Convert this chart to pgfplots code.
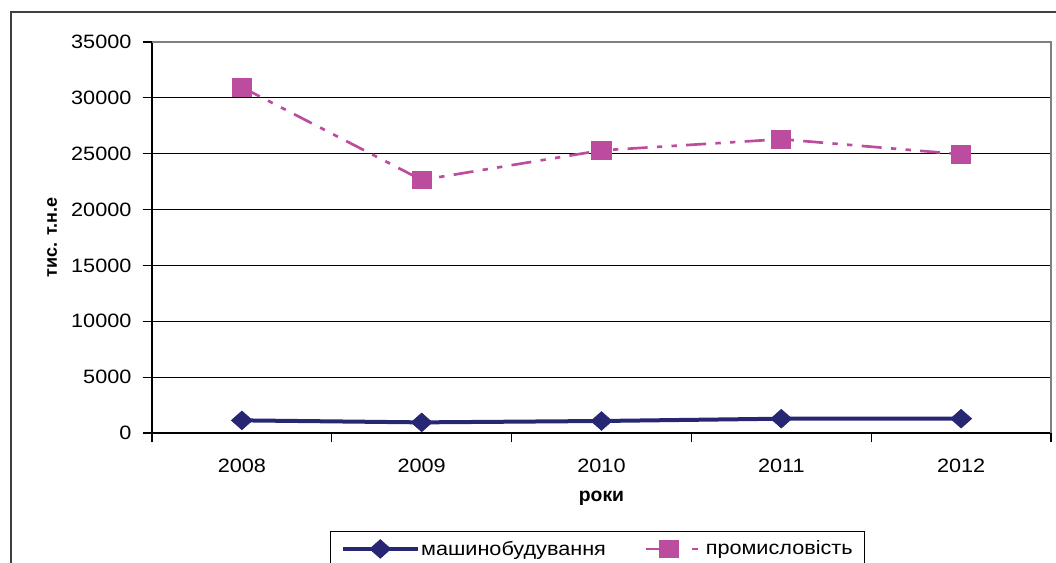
\documentclass[border=0pt]{standalone}
\usepackage{pgfplots}
\pgfplotsset{compat=1.18}
\usepackage{fontspec}
\setmainfont{Liberation Sans}
\definecolor{navy}{HTML}{262673}
\definecolor{pinkm}{HTML}{BB4C9E}
\definecolor{bordergrey}{HTML}{808080}
\begin{document}
\begin{tikzpicture}[x=0.75pt,y=0.75pt]
\useasboundingbox (0,0) rectangle (1056,563);
\clip (0,0) rectangle (1056,563);
\draw[line width=1.5pt,color=black!75] (11,-60) -- (11,551) -- (1100,551);
\begin{axis}[
  at={(152pt*0.75,130pt*0.75)}, anchor=south west,
  scale only axis, width=674.25pt, height=293.25pt,
  xmin=-0.5, xmax=4.5, ymin=0, ymax=35000,
  axis x line*=bottom, axis y line*=left,
  axis line style={line width=0.9pt,black},
  xtick={0,1,2,3,4}, xticklabels={2008,2009,2010,2011,2012},
  major x tick style={draw=none},
  minor xtick={-0.5,0.5,1.5,2.5,3.5,4.5},
  minor x tick style={line width=0.9pt,black},
  minor tick length=7pt,
  tick align=outside,
  ytick={0,5000,...,35000},
  major y tick style={line width=0.9pt,black},
  major tick length=7pt,
  ymajorgrids, grid style={line width=0.9pt,black},
  scaled ticks=false,
  yticklabel style={/pgf/number format/1000 sep={}, font=\fontsize{14.5}{17}\selectfont, xscale=1.12, xshift=-4pt},
  /pgf/number format/assume math mode=true,
  xticklabel style={font=\fontsize{14.5}{17}\selectfont, xscale=1.12, yshift=-9pt},
  ylabel={\textbf{тис. т.н.е}},
  ylabel style={font=\fontsize{13.5}{15}\selectfont\bfseries, at={(axis description cs:-0.111,0.5)}, anchor=center},
  xlabel={\textbf{роки}},
  xlabel style={font=\fontsize{14.5}{16}\selectfont\bfseries, yshift=-7pt},
  legend columns=2,
  legend style={at={(0.4956,-0.2506)}, anchor=north, draw=black, line width=0.8pt,
     font=\fontsize{14.5}{17}\selectfont, inner ysep=3pt, inner xsep=8pt,
     /tikz/every even column/.append style={column sep=0pt},
     nodes={xscale=1.12, inner xsep=1pt, inner ysep=4pt}},
  legend cell align=left,
  clip=false,
]
\draw[bordergrey,line width=0.9pt] (rel axis cs:0,1) -- (rel axis cs:1,1) -- (rel axis cs:1,0);
\addplot[navy, line width=3pt, mark=diamond*, mark size=7pt, mark options={solid,line width=0.5pt,fill=navy,xscale=1.5},
  legend image code/.code={\draw[mark repeat=2,mark phase=2] plot coordinates {(0pt,0pt) (28pt,0pt) (56pt,0pt)};}]
 coordinates {(0,1130) (1,950) (2,1075) (3,1280) (4,1280)};
\addlegendentry{\makebox[149pt][l]{машинобудування}}
\addplot[pinkm, line width=2pt, dash pattern=on 15pt off 7pt on 4pt off 7pt on 4pt off 7pt, mark=square*, mark size=6pt, mark options={solid,fill=pinkm,draw=pinkm,xscale=1.1}, 
  legend image code/.code={\draw[dash pattern=on 15pt off 19pt on 5pt off 10pt,mark repeat=2,mark phase=2] plot coordinates {(0pt,0pt) (17pt,0pt) (39pt,0pt)};}]
 coordinates {(0,30950) (1,22650) (2,25300) (3,26300) (4,24950)};
\addlegendentry{\hspace{3pt}промисловість}
\end{axis}
\end{tikzpicture}
\end{document}
